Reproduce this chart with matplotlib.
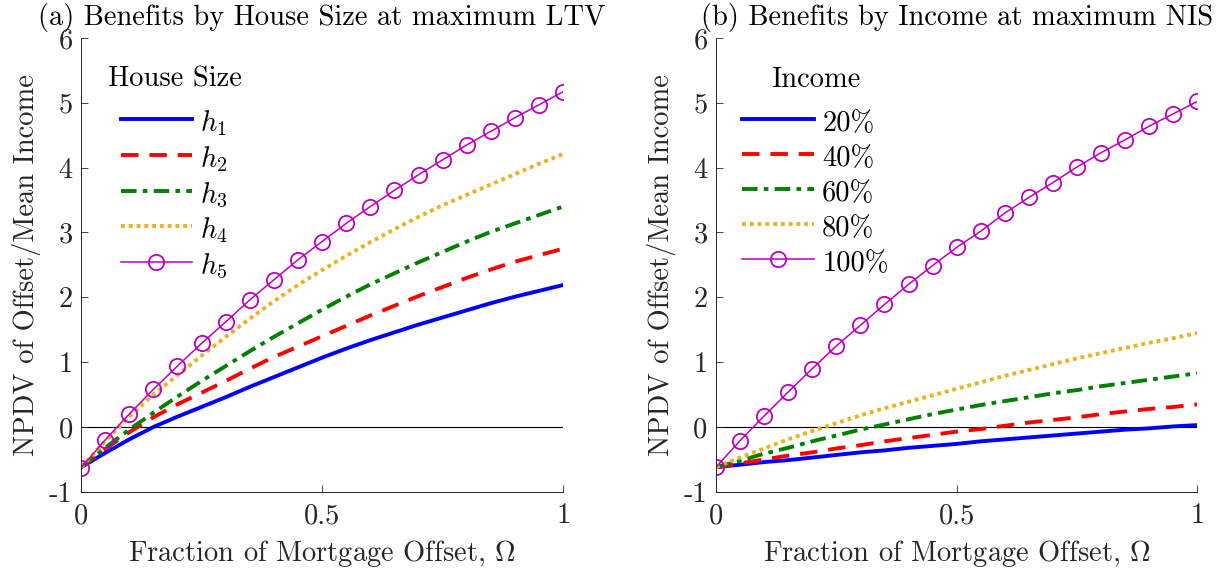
import matplotlib
matplotlib.use("Agg")
import matplotlib.pyplot as plt
from matplotlib.ticker import FormatStrFormatter

plt.rcParams["font.family"] = "serif"
plt.rcParams["font.serif"] = ["cmr10", "DejaVu Serif"]
plt.rcParams["mathtext.fontset"] = "cm"
plt.rcParams["axes.unicode_minus"] = False
plt.rcParams["axes.formatter.use_mathtext"] = False

# fraction of mortgage offset
omega = [0.00, 0.05, 0.10, 0.15, 0.20, 0.25, 0.30, 0.35, 0.40, 0.45, 0.50,
         0.55, 0.60, 0.65, 0.70, 0.75, 0.80, 0.85, 0.90, 0.95, 1.00]

# (a) by house size
h1 = [-0.62, -0.40, -0.19, 0.00, 0.16, 0.31, 0.46, 0.62, 0.77, 0.92, 1.07,
      1.21, 1.34, 1.46, 1.58, 1.69, 1.80, 1.91, 2.01, 2.10, 2.19]
h2 = [-0.62, -0.34, -0.08, 0.15, 0.35, 0.53, 0.71, 0.90, 1.08, 1.24, 1.40,
      1.56, 1.72, 1.87, 2.02, 2.16, 2.30, 2.43, 2.55, 2.65, 2.75]
h3 = [-0.62, -0.32, -0.04, 0.22, 0.47, 0.71, 0.94, 1.17, 1.39, 1.60, 1.81,
      2.01, 2.20, 2.37, 2.54, 2.70, 2.86, 3.01, 3.14, 3.27, 3.40]
h4 = [-0.62, -0.22, 0.16, 0.50, 0.80, 1.10, 1.39, 1.67, 1.94, 2.19, 2.42,
      2.64, 2.85, 3.05, 3.24, 3.42, 3.58, 3.74, 3.90, 4.06, 4.21]
h5 = [-0.63, -0.20, 0.20, 0.58, 0.94, 1.29, 1.62, 1.96, 2.27, 2.58, 2.86,
      3.14, 3.40, 3.65, 3.89, 4.12, 4.35, 4.56, 4.77, 4.97, 5.17]

# (b) by income percentile
inc20 = [-0.62, -0.58, -0.54, -0.51, -0.47, -0.43, -0.39, -0.36, -0.32, -0.29, -0.26,
         -0.22, -0.19, -0.16, -0.13, -0.10, -0.07, -0.04, -0.02, 0.01, 0.03]
inc40 = [-0.62, -0.56, -0.50, -0.44, -0.39, -0.33, -0.28, -0.22, -0.17, -0.12, -0.07,
         -0.03, 0.02, 0.07, 0.11, 0.15, 0.20, 0.24, 0.28, 0.31, 0.35]
inc60 = [-0.62, -0.52, -0.41, -0.32, -0.22, -0.13, -0.04, 0.04, 0.12, 0.20, 0.27,
         0.34, 0.40, 0.46, 0.52, 0.57, 0.63, 0.68, 0.73, 0.78, 0.83]
inc80 = [-0.62, -0.47, -0.33, -0.19, -0.06, 0.06, 0.18, 0.29, 0.39, 0.49, 0.59,
         0.69, 0.79, 0.88, 0.97, 1.06, 1.14, 1.22, 1.30, 1.37, 1.45]
inc100 = [-0.62, -0.21, 0.17, 0.54, 0.90, 1.25, 1.57, 1.89, 2.20, 2.49, 2.77,
          3.02, 3.30, 3.54, 3.77, 4.01, 4.23, 4.43, 4.64, 4.83, 5.02]

labels_a = [r"$h_1$", r"$h_2$", r"$h_3$", r"$h_4$", r"$h_5$"]
labels_b = ["20%", "40%", "60%", "80%", "100%"]

FS = 20.5

# line styles shared by both panels (matlab-ish)
styles = [
    dict(color="#0000FF", lw=2.8, linestyle="-"),
    dict(color="#FF0000", lw=2.8, linestyle=(0, (4.5, 2.8))),
    dict(color="#008000", lw=2.8, linestyle=(0, (4.0, 1.6, 1.2, 1.6))),
    dict(color="#EDB120", lw=2.8, linestyle=(0, (1.0, 1.0))),
    dict(color="#BF00BF", lw=1.1, linestyle="-", marker="o", markersize=11,
         markerfacecolor="none", markeredgewidth=1.3),
]

fig = plt.figure(figsize=(12.27, 5.74), dpi=100)
ax_a = fig.add_axes([0.066, 0.143, 0.393, 0.791])
ax_b = fig.add_axes([0.5835, 0.143, 0.3924, 0.791])

panels = [
    (ax_a, [h1, h2, h3, h4, h5], labels_a, "House Size",
     "(a) Benefits by House Size at maximum LTV"),
    (ax_b, [inc20, inc40, inc60, inc80, inc100], labels_b, "Income",
     "(b) Benefits by Income at maximum NIS"),
]

for ax, series, labels, leg_title, title in panels:
    ax.axhline(0, color="k", lw=0.8, zorder=1)
    for ys, lab, st in zip(series, labels, styles):
        ax.plot(omega, ys, label=lab, zorder=2, **st)

    ax.set_xlim(0, 1)
    ax.set_ylim(-1, 6)
    ax.set_xticks([0, 0.5, 1])
    ax.set_yticks(range(-1, 7))
    ax.xaxis.set_major_formatter(FormatStrFormatter("%g"))
    ax.yaxis.set_major_formatter(FormatStrFormatter("%g"))
    ax.tick_params(direction="in", length=5, width=0.6, color="#262626",
                   labelsize=FS, labelcolor="#262626")
    ax.tick_params(axis="x", pad=8)
    ax.tick_params(axis="y", pad=6)
    for side in ["top", "right"]:
        ax.spines[side].set_visible(False)
    for side in ["left", "bottom"]:
        ax.spines[side].set_linewidth(0.7)
        ax.spines[side].set_color("#262626")

    ax.set_xlabel(r"Fraction of Mortgage Offset, $\Omega$", fontsize=FS,
                  color="#262626", labelpad=6)
    ax.set_ylabel("NPDV of Offset/Mean Income", fontsize=FS, color="#262626",
                  labelpad=6)
    ax.set_title(title, fontsize=FS, pad=9)

    leg = ax.legend(loc="upper left", bbox_to_anchor=(0.055, 0.937),
                    frameon=False, fontsize=FS, title=leg_title,
                    title_fontsize=FS, handlelength=2.5, handletextpad=0.3,
                    handleheight=1.2, labelspacing=0.17, borderpad=0,
                    borderaxespad=0, numpoints=1)
    # extra gap between legend title and entries
    leg._legend_box.sep = 10

fig.savefig("out.png", dpi=100)
